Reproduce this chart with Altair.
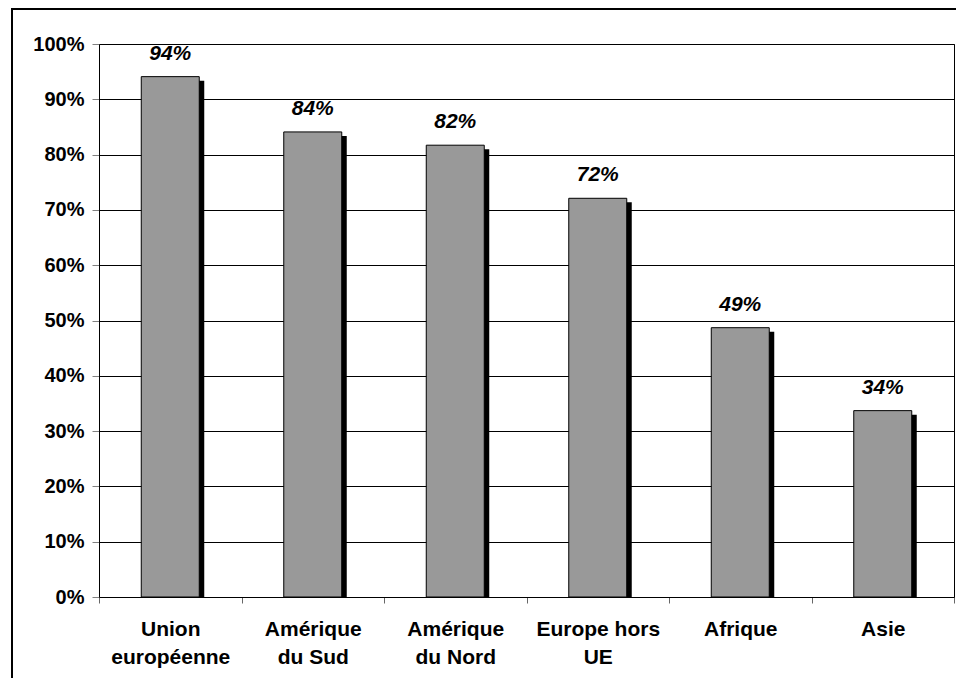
import altair as alt
import pandas as pd
import json

label_lines = [
    ["Union", "européenne"],
    ["Amérique", "du Sud"],
    ["Amérique", "du Nord"],
    ["Europe hors", "UE"],
    ["Afrique"],
    ["Asie"],
]
categories = [" ".join(l) for l in label_lines]
values = [0.941, 0.841, 0.817, 0.721, 0.487, 0.337]
y_ticks = [0, 0.1, 0.2, 0.3, 0.4, 0.5, 0.6, 0.7, 0.8, 0.9, 1.0]

df = pd.DataFrame({"region": categories, "value": values})

expr = "datum.label"
for cat, lines in reversed(list(zip(categories, label_lines))):
    expr = f"datum.label == {json.dumps(cat)} ? {json.dumps(lines)} : ({expr})"

FONT = "Liberation Sans"

x_enc = alt.X(
    "region:N",
    sort=categories,
    scale=alt.Scale(paddingInner=0, paddingOuter=0),
    axis=alt.Axis(
        title=None,
        labelAngle=0,
        labelFont=FONT,
        labelFontSize=21,
        labelFontWeight="bold",
        labelColor="black",
        labelExpr=expr,
        labelLineHeight=28,
        labelPadding=15,
        labelBaseline="top",
        tickBand="extent",
        tickSize=6,
        tickColor="#666666",
        domainColor="black",
        grid=False,
    ),
)
y_enc = alt.Y(
    "value:Q",
    scale=alt.Scale(domain=[0, 1], nice=False),
    axis=alt.Axis(
        title=None,
        values=y_ticks,
        format=".0%",
        labelFont=FONT,
        labelFontSize=20,
        labelFontWeight="bold",
        labelColor="black",
        labelPadding=8,
        tickSize=7,
        tickColor="#808080",
        domainColor="black",
        grid=True,
        gridColor="black",
        gridWidth=1,
        gridOpacity=1,
    ),
)

base = alt.Chart(df)

shadow = base.mark_bar(
    color="black", width=58, xOffset=5, yOffset=4, y2Offset=0, clip=True
).encode(x=x_enc, y=y_enc)

bars = base.mark_bar(
    fill="#999999", stroke="black", strokeWidth=1, width=58
).encode(x=x_enc, y=y_enc)

labels = base.mark_text(
    font=FONT,
    fontSize=21,
    fontWeight="bold",
    fontStyle="italic",
    color="black",
    baseline="alphabetic",
    dy=-17,
).encode(x=x_enc, y=y_enc, text=alt.Text("value:Q", format=".0%"))

border_data = alt.Data(values=[{"a": 1}])
border_left = alt.Chart(border_data).mark_rule(color="black", strokeWidth=2).encode(
    x=alt.value(-87), y=alt.value(-35), y2=alt.value(700)
)
border_top = alt.Chart(border_data).mark_rule(color="black", strokeWidth=2).encode(
    y=alt.value(-35), x=alt.value(-88), x2=alt.value(900)
)

chart = (
    alt.layer(shadow, bars, labels, border_left, border_top)
    .properties(
        width=855,
        height=553,
        autosize=alt.AutoSizeParams(type="none"),
        padding={"left": 91, "top": 36, "right": 2, "bottom": 81},
        background="white",
    )
    .configure_view(stroke="black", strokeWidth=1)
)

chart.save("out.html", embed_options={"renderer": "svg", "actions": False})
